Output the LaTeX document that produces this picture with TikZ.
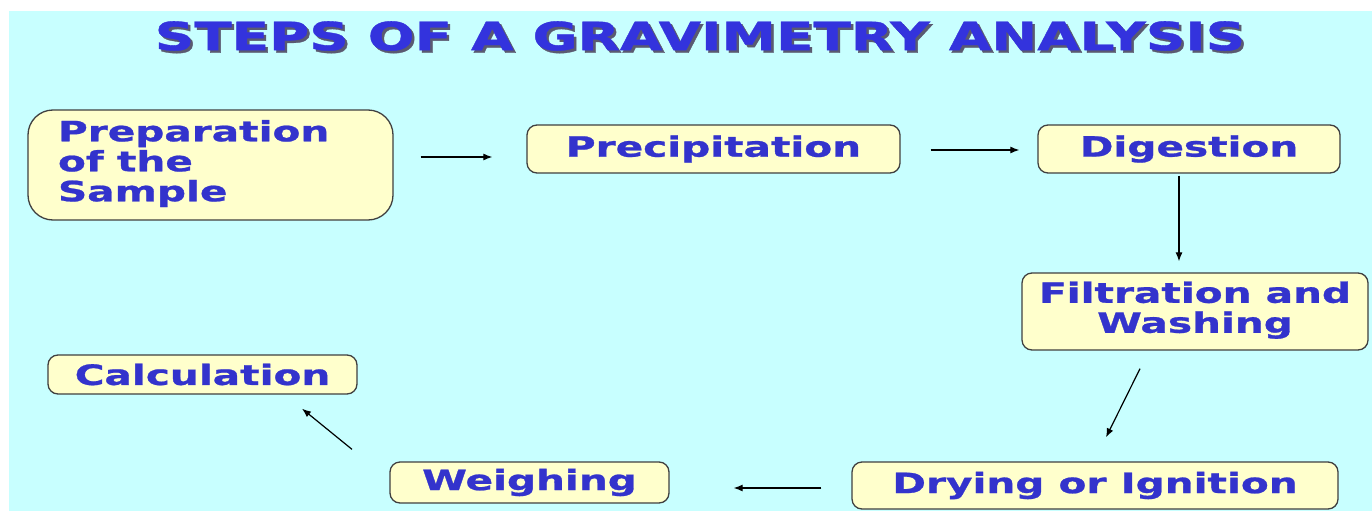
\documentclass[tikz,border=0pt]{standalone}
\usepackage{fontspec}
\setmainfont{DejaVu Sans}
\newfontfamily\boxfont{DejaVu Sans Bold}[FakeBold=0.8]
\usepackage{graphicx}
\usetikzlibrary{arrows.meta}
\definecolor{bg}{HTML}{C8FFFF}
\definecolor{boxfill}{HTML}{FFFFCC}
\definecolor{boxline}{HTML}{404040}
\definecolor{txt}{HTML}{3333CC}
\definecolor{titlecol}{HTML}{3333DD}
\definecolor{shadowcol}{HTML}{5A5A70}
\newcommand{\stx}[1]{\scalebox{1.45}[1]{#1}}
\begin{document}
\begin{tikzpicture}[x=1pt,y=-1pt,
  box/.style={draw=boxline, line width=1.3pt, fill=boxfill, rounded corners=10pt,
    inner sep=0pt, text=txt, font=\fontsize{28}{29}\selectfont\boxfont},
  arr/.style={-{Latex[length=9pt,width=7pt]}, line width=1.2pt, black},
  titletext/.style={font=\boxfont, inner sep=0pt}]
\useasboundingbox (0,0) rectangle (1372,511);
\fill[white] (0,0) rectangle (1372,511);
\fill[bg] (9,11) rectangle (1372,511);
% title
\node[titletext, text=shadowcol] (titleshadow) at (702.5,38.5) {\resizebox{1090pt}{29pt}{STEPS OF A GRAVIMETRY ANALYSIS}};
\node[titletext, text=titlecol] (title) at (700,36) {\resizebox{1090pt}{29pt}{STEPS OF A GRAVIMETRY ANALYSIS}};
% boxes
\node[box, rounded corners=25pt, minimum height=110pt, text width=305pt, inner xsep=30pt, align=left]
  (prep) at (210.5,165) {\stx{\begin{tabular}{@{}l@{}}Preparation\\of the\\Sample\end{tabular}}};
\node[box, minimum width=373pt, minimum height=48pt] (prec) at (713.5,149) {\stx{Precipitation}};
\node[box, minimum width=302pt, minimum height=48pt] (dig) at (1189,149) {\stx{Digestion}};
\node[box, minimum width=346pt, minimum height=77pt] (filt) at (1195,311.5) {\stx{\begin{tabular}{@{}c@{}}Filtration and\\Washing\end{tabular}}};
\node[box, minimum width=486pt, minimum height=47pt] (dry) at (1095,485.5) {\stx{Drying or Ignition}};
\node[box, minimum width=279pt, minimum height=41pt] (weigh) at (529.5,482.5) {\stx{Weighing}};
\node[box, minimum width=309pt, minimum height=39pt] (calc) at (202.5,374.5) {\stx{Calculation}};
% arrows
\draw[arr] ([xshift=27pt,yshift=8pt]prep.east) -- ([xshift=-34pt,yshift=-8pt]prec.west);
\draw[arr] ([xshift=30pt,yshift=-1pt]prec.east) -- ([xshift=-18pt,yshift=-1pt]dig.west);
\draw[arr] ([xshift=-10pt,yshift=-2pt]dig.south) -- ([xshift=-16pt,yshift=11pt]filt.north);
\draw[arr] ([xshift=-55pt,yshift=-18pt]filt.south) -- ([xshift=11pt,yshift=24pt]dry.north);
\draw[arr] ([xshift=-30pt,yshift=-2.5pt]dry.west) -- ([xshift=64pt,yshift=-5.5pt]weigh.east);
\draw[arr] ([xshift=-177.5pt,yshift=12pt]weigh.north) -- ([xshift=99.5pt,yshift=-14pt]calc.south);
\end{tikzpicture}
\end{document}
